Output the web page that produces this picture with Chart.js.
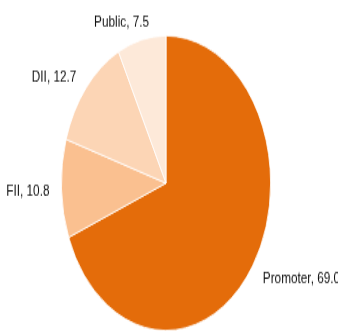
<!DOCTYPE html>
<html>
<head>
<meta charset="utf-8">
<script src="https://cdn.jsdelivr.net/npm/chart.js@4/dist/chart.umd.min.js"></script>
<style>
  html, body { margin: 0; padding: 0; background: #fff; overflow: hidden; }
  #wrap { position: absolute; left: 0; top: 0; width: 338px; height: 235px;
          transform: scaleY(1.4085); transform-origin: 0 0; }
</style>
</head>
<body>
<div id="wrap"><canvas id="c"></canvas></div>
<script>
const categories = ["Promoter", "FII", "DII", "Public"];
const values = [69.0, 10.8, 12.7, 7.5];
const colors = ["#E46C0A", "#FAC090", "#FCD5B5", "#FDE9D9"];

const labelPlugin = {
  id: "sliceLabels",
  afterDatasetsDraw(chart) {
    const ctx = chart.ctx;
    const meta = chart.getDatasetMeta(0);
    ctx.save();
    ctx.font = "11.8px 'Liberation Sans', Arial, sans-serif";
    ctx.fillStyle = "#111111";
    const h = 8.5;
    meta.data.forEach((arc, i) => {
      const p = arc.getProps(["x", "y", "startAngle", "endAngle", "outerRadius"], true);
      const mid = (p.startAngle + p.endAngle) / 2;
      const dx = Math.cos(mid), dy = Math.sin(mid);
      const r = p.outerRadius + 10;
      const px = p.x + dx * r;
      const py = p.y + dy * r;
      const text = categories[i] + ", " + values[i].toFixed(1);
      const w = ctx.measureText(text).width;
      // near-vertical labels drift toward being centred on the anchor
      const shift = dx >= 0 ? 2 : -2 + w * 0.25 * Math.max(0, Math.abs(dy) - 0.8) / 0.2;
      ctx.textAlign = dx >= 0 ? "left" : "right";
      ctx.textBaseline = "middle";
      ctx.fillText(text, px + shift, py + dy * h / 2 + 1);
    });
    ctx.restore();
  }
};

new Chart(document.getElementById("c"), {
  type: "pie",
  data: {
    labels: categories,
    datasets: [{
      data: values,
      backgroundColor: colors,
      borderColor: "#ffffff",
      borderWidth: 0.8
    }]
  },
  options: {
    responsive: true,
    maintainAspectRatio: false,
    animation: false,
    layout: { padding: { left: 61, right: 67, top: 25, bottom: 0 } },
    plugins: { legend: { display: false }, tooltip: { enabled: false } }
  },
  plugins: [labelPlugin]
});
</script>
</body>
</html>
